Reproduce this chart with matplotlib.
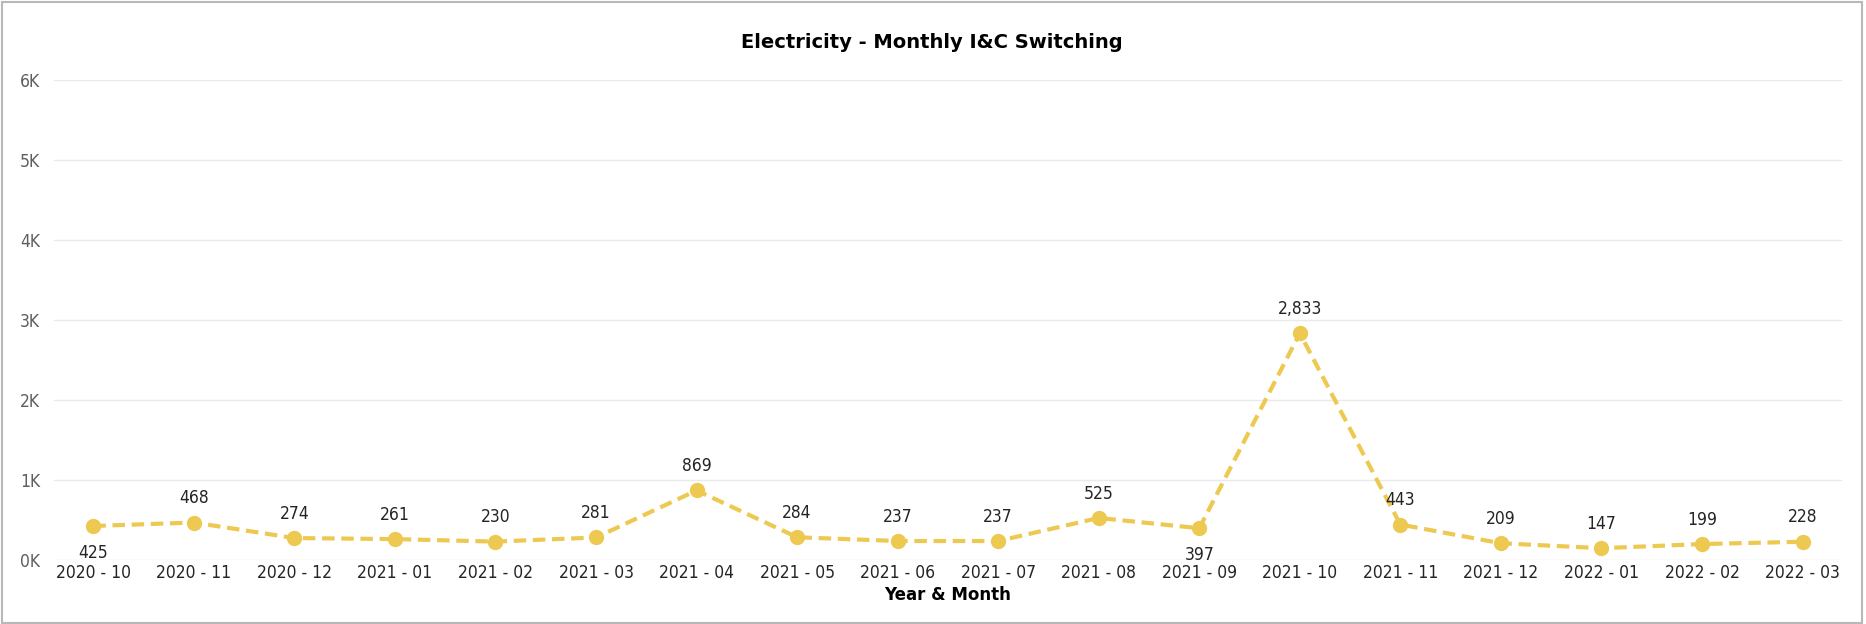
import matplotlib
matplotlib.use("Agg")
import matplotlib.pyplot as plt
from matplotlib.patches import Rectangle
from matplotlib.ticker import FuncFormatter

# monthly I&C switching counts
months = ['2020 - 10', '2020 - 11', '2020 - 12', '2021 - 01', '2021 - 02', '2021 - 03',
          '2021 - 04', '2021 - 05', '2021 - 06', '2021 - 07', '2021 - 08', '2021 - 09',
          '2021 - 10', '2021 - 11', '2021 - 12', '2022 - 01', '2022 - 02', '2022 - 03']
values = [425, 468, 274, 261, 230, 281, 869, 284, 237, 237, 525, 397,
          2833, 443, 209, 147, 199, 228]
# labels drawn under the point instead of above
below = ['2020 - 10', '2021 - 09']

line_color = '#EDC951'
cond = dict(family='DejaVu Sans', stretch='condensed')

fig = plt.figure(figsize=(18.66, 6.24), dpi=100)
ax = fig.add_axes([0.029, 0.1026, 0.958, 0.7694])

x = list(range(len(months)))
ax.plot(x, values, color=line_color, linewidth=3, linestyle=(0, (3, 1.6)),
        marker='o', markersize=10, markerfacecolor=line_color, markeredgecolor=line_color)

for i, v in enumerate(values):
    txt = f"{v:,}"
    if months[i] in below:
        ax.annotate(txt, (i, v), xytext=(0, -13), textcoords='offset points',
                    ha='center', va='top', fontsize=12.5, color='#252423', **cond)
    else:
        ax.annotate(txt, (i, v), xytext=(0, 11), textcoords='offset points',
                    ha='center', va='bottom', fontsize=12.5, color='#252423', **cond)

ax.set_xlim(-0.39, len(months) - 1 + 0.39)
ax.set_ylim(0, 6000)
ax.set_yticks([0, 1000, 2000, 3000, 4000, 5000, 6000])
ax.yaxis.set_major_formatter(FuncFormatter(lambda v, p: f"{int(v / 1000)}K"))
ax.set_xticks(x)
ax.set_xticklabels(months)
ax.tick_params(axis='x', length=0, labelsize=12.5, colors='#252423', pad=3)
ax.tick_params(axis='y', length=0, labelsize=12.5, colors='#605E5C', pad=10)
for lab in ax.get_xticklabels() + ax.get_yticklabels():
    lab.set_fontstretch('condensed')

ax.grid(axis='y', color='#EAEAEA', linewidth=1)
ax.set_axisbelow(True)
for s in ax.spines.values():
    s.set_visible(False)

ax.set_xlabel('Year & Month', fontsize=12, fontweight='bold', color='#000000', labelpad=3)
fig.text(0.4995, 0.932, 'Electricity - Monthly I&C Switching', ha='center', va='center',
         fontsize=14, fontweight='bold', color='#000000')

# thin grey frame around the visual
fig.patches.append(Rectangle((0.001, 0.002), 0.997, 0.995, transform=fig.transFigure,
                             fill=False, edgecolor='#B8B8B8', linewidth=1.5))

fig.savefig('out.png', dpi=100)
